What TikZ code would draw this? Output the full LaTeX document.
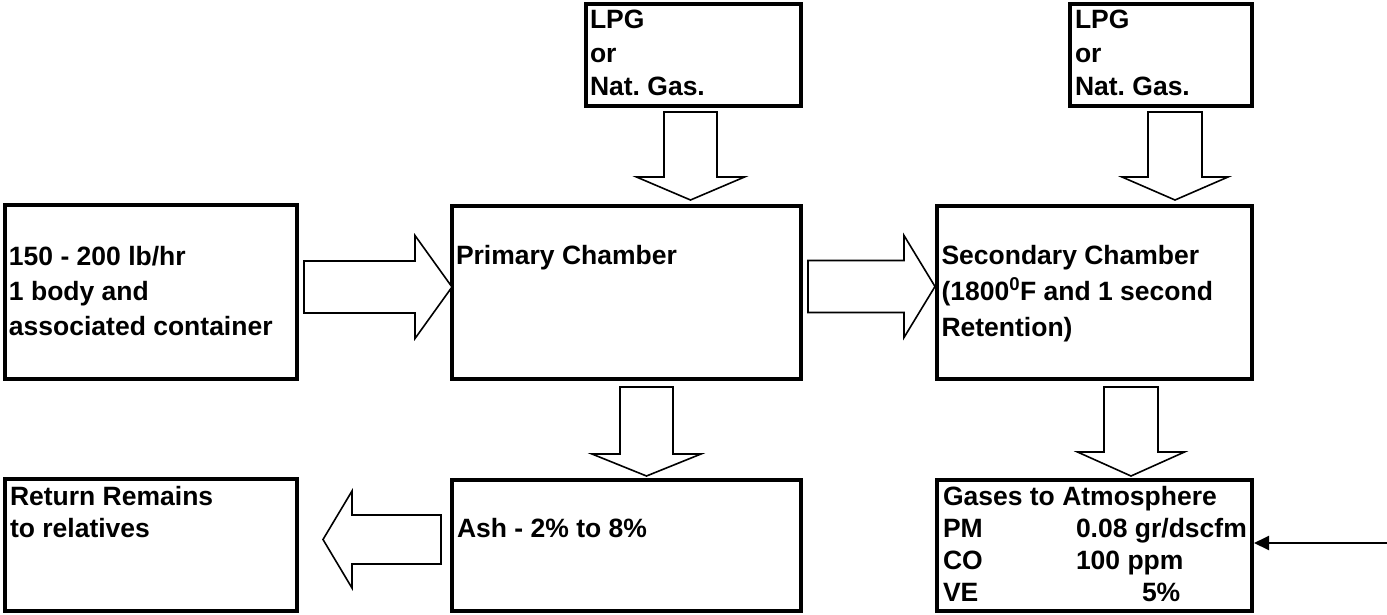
\documentclass[tikz,border=0pt]{standalone}
\usepackage{fontspec}
\setmainfont{Liberation Sans}
\usetikzlibrary{calc,arrows.meta}
\frenchspacing
\tikzset{
  pics/barrow/.style n args={4}{code={
    \draw[blk] (0,-#3) -- (#2,-#3) -- (#2,-#4) -- (#1,0) -- (#2,#4) -- (#2,#3) -- (0,#3) -- cycle;
  }}
}
\begin{document}
\begin{tikzpicture}[x=1pt,y=-1pt,
  box/.style={draw=black,line width=4pt,inner sep=0pt,outer sep=0pt,fill=white},
  blk/.style={draw=black,line width=1.6pt,fill=white,line join=miter},
  txt/.style={anchor=base west,inner sep=0pt,outer sep=0pt,font=\bfseries},
  thinarrow/.style={draw=black,line width=2pt,-{Triangle[length=15pt,width=14pt]}}]
\useasboundingbox[fill=white] (0,0) rectangle (1387,614);
% boxes
\node[box,minimum width=292pt,minimum height=174pt] (A) at (151,292) {};
\node[box,minimum width=349pt,minimum height=173pt] (P) at (626.5,292.5) {};
\node[box,minimum width=315pt,minimum height=173pt] (S) at (1094.5,292.5) {};
\node[box,minimum width=215pt,minimum height=102pt] (L1) at (693.5,55) {};
\node[box,minimum width=182pt,minimum height=102pt] (L2) at (1161,55) {};
\node[box,minimum width=292pt,minimum height=132pt] (R) at (151,545) {};
\node[box,minimum width=349pt,minimum height=131pt] (Ash) at (626.5,545.5) {};
\node[box,minimum width=315pt,minimum height=131pt] (G) at (1094.5,545.5) {};
% texts
\node[txt] (tA) at (9,265) {\fontsize{26.5}{35}\selectfont\bfseries\begin{tabular}[t]{@{}l@{}}150 - 200 lb/hr\\1 body and\\associated container\end{tabular}};
\node[txt] (tP) at (456,264) {\fontsize{26.5}{35}\selectfont\bfseries Primary Chamber};
\node[txt] (tS) at (941.5,264) {\fontsize{26.5}{36}\selectfont\bfseries\begin{tabular}[t]{@{}l@{}}Secondary Chamber\\(1800\textsuperscript{0}F and 1 second\\Retention)\end{tabular}};
\node[txt] (tL1) at (590,28.5) {\fontsize{26.5}{33.5}\selectfont\bfseries\begin{tabular}[t]{@{}l@{}}LPG\\or\\Nat. Gas.\end{tabular}};
\node[txt] (tL2) at (1075,28.5) {\fontsize{26.5}{33.5}\selectfont\bfseries\begin{tabular}[t]{@{}l@{}}LPG\\or\\Nat. Gas.\end{tabular}};
\node[txt] (tR) at (10,505) {\fontsize{26.5}{32}\selectfont\bfseries\begin{tabular}[t]{@{}l@{}}Return Remains\\to relatives\end{tabular}};
\node[txt] (tAsh) at (457,537) {\fontsize{26.5}{32}\selectfont\bfseries Ash - 2\% to 8\%};
\node[txt] (tG) at (943,505) {\fontsize{26.5}{32.3}\selectfont\bfseries\begin{tabular}[t]{@{}p{133pt}@{}l@{}}\multicolumn{2}{@{}l@{}}{Gases to Atmosphere}\\PM&0.08 gr/dscfm\\CO&100 ppm\\VE&\hspace{66pt}5\%\end{tabular}};
% block arrows
\pic at ($(A.east)+(7,-5)$) {barrow={148}{111}{26}{51.5}};
\pic at ($(P.east)+(7,-6)$) {barrow={127}{96}{26}{51}};
\pic[rotate=-90] at ($(L1.south)+(-3,6)$) {barrow={88}{65}{26.5}{54}};
\pic[rotate=-90] at ($(L2.south)+(14,6)$) {barrow={88}{65}{27}{53}};
\pic[rotate=-90] at ($(P.south)+(20,8)$) {barrow={89}{67}{26.5}{54.5}};
\pic[rotate=-90] at ($(S.south)+(36.5,8)$) {barrow={89}{65}{27}{53.5}};
\pic[rotate=180] at ($(Ash.west)+(-11,-6)$) {barrow={118}{89}{24.5}{48.5}};
% thin arrow into gases box
\coordinate (src) at (1387,543);
\draw[thinarrow] (src) -- ($(src -| G.east)+(2,0)$);
\end{tikzpicture}
\end{document}
